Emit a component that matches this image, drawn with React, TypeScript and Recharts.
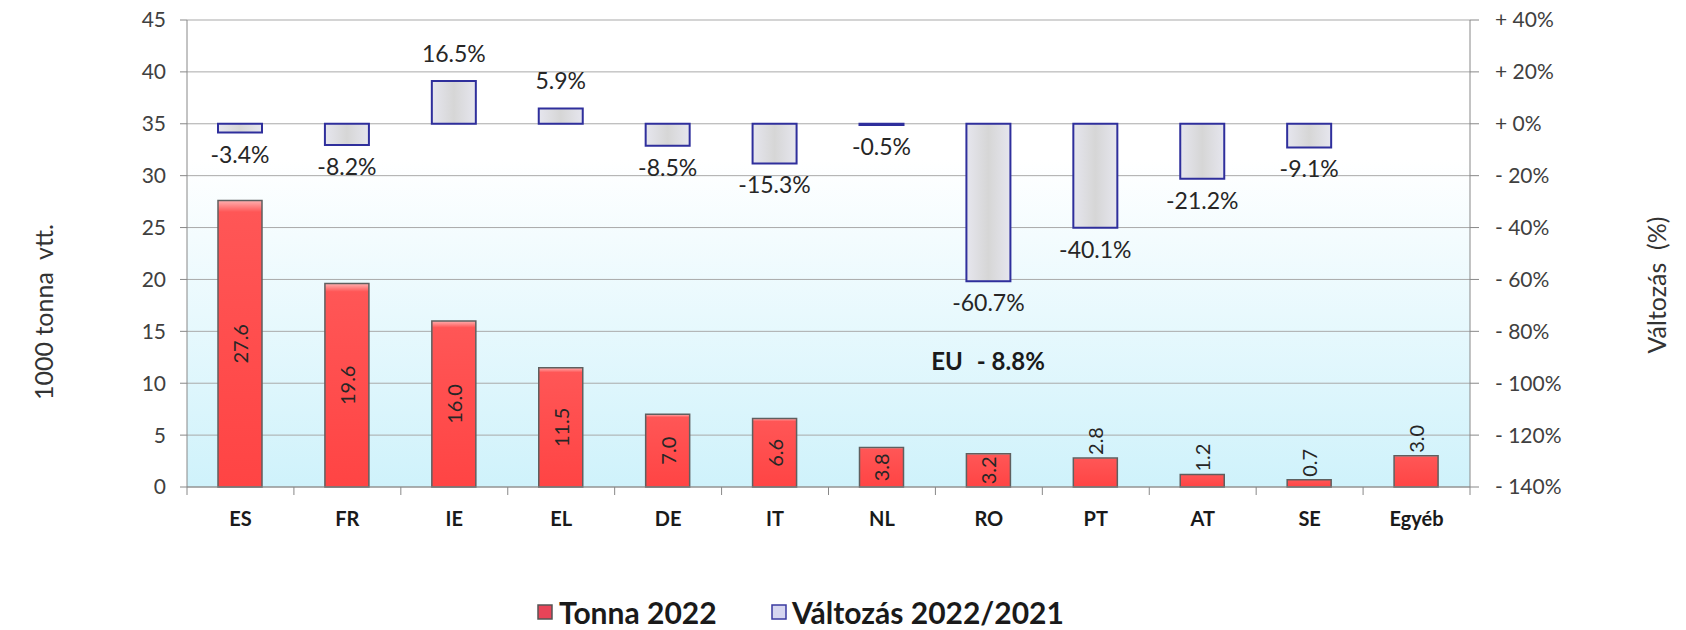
import React from "react";
import { BarChart, Bar, XAxis, YAxis, CartesianGrid, LabelList } from "recharts";

const countries = ["ES", "FR", "IE", "EL", "DE", "IT", "NL", "RO", "PT", "AT", "SE", "Egyéb"];
const tonna2022 = [27.6, 19.6, 16.0, 11.5, 7.0, 6.6, 3.8, 3.2, 2.8, 1.2, 0.7, 3.0];
const valtozas = [-3.4, -8.2, 16.5, 5.9, -8.5, -15.3, -0.5, -60.7, -40.1, -21.2, -9.1, null];
const leftTicks = [0, 5, 10, 15, 20, 25, 30, 35, 40, 45];
const rightTicks = [-140, -120, -100, -80, -60, -40, -20, 0, 20, 40];
const euNote = ["EU", "- 8.8%"];

const data = countries.map((name, i) => ({ name, tonna: tonna2022[i], valt: valtozas[i] }));

const W = 1686;
const H = 630;
const margin = { top: 20, right: 116, bottom: 103, left: 127 };
const leftW = 60;
const rightW = 100;
const xH = 40;
const plotLeft = margin.left + leftW;
const plotRight = W - margin.right - rightW;
const plotBottom = H - margin.bottom - xH;
const band = (plotRight - plotLeft) / countries.length;

const FONT = "Lato, 'Open Sans', sans-serif";

function XTick(props: any) {
  const { x, payload, index } = props;
  return (
    <g>
      <line x1={x - band / 2} x2={x - band / 2} y1={plotBottom} y2={plotBottom + 8} stroke="#888" />
      {index === countries.length - 1 && (
        <line x1={x + band / 2} x2={x + band / 2} y1={plotBottom} y2={plotBottom + 8} stroke="#888" />
      )}
      <text x={x} y={plotBottom + 39} textAnchor="middle" fontFamily={FONT} fontWeight={700} fontSize={20} fill="#1a1a1a">
        {payload.value}
      </text>
    </g>
  );
}

function TonnaLabel(props: any) {
  const vb = props.viewBox ?? props;
  const { x, y, width, height } = vb;
  const v = props.value;
  if (v == null) return null;
  const cx = x + width / 2;
  const top = Math.min(y, y + height);
  const h = Math.abs(height);
  const inside = h > 32;
  const ty = inside ? top + h / 2 : top - 3;
  return (
    <text
      x={cx}
      y={ty}
      transform={`rotate(-90 ${cx} ${ty})`}
      textAnchor={inside ? "middle" : "start"}
      dominantBaseline="central"
      fontFamily={FONT}
      fontSize={20}
      fill="#262626"
    >
      {Number(v).toFixed(1)}
    </text>
  );
}

function ValtLabel(props: any) {
  const vb = props.viewBox ?? props;
  const { x, y, width, height } = vb;
  const v = props.value;
  if (v == null) return null;
  const cx = x + width / 2;
  const top = Math.min(y, y + height);
  const bottom = Math.max(y, y + height);
  const ty = v >= 0 ? top - 19 : bottom + 30;
  return (
    <text x={cx} y={ty} textAnchor="middle" fontFamily={FONT} fontSize={23} fill="#262626">
      {`${Number(v).toFixed(1)}%`}
    </text>
  );
}

const fmtRight = (v: number) => (v >= 0 ? `+ ${v}%` : `- ${-v}%`);

export default function App() {
  return (
    <div style={{ position: "fixed", left: 0, top: 0, width: W, height: H, background: "#fff" }}>
      <BarChart width={W} height={H} data={data} margin={margin}>
        <defs>
          <linearGradient id="bgFill" x1="0" y1="0" x2="0" y2="1">
            <stop offset="0%" stopColor="#ffffff" />
            <stop offset="30%" stopColor="#ffffff" />
            <stop offset="100%" stopColor="#cff2fb" />
          </linearGradient>
          <linearGradient id="redFill" x1="0" y1="0" x2="0" y2="1">
            <stop offset="0%" stopColor="#ffb0b0" />
            <stop offset="4%" stopColor="#ff5656" />
            <stop offset="100%" stopColor="#ff4444" />
          </linearGradient>
          <linearGradient id="grayFill" x1="0" y1="0" x2="1" y2="0">
            <stop offset="0%" stopColor="#e6e6ee" />
            <stop offset="50%" stopColor="#d6d6d6" />
            <stop offset="100%" stopColor="#e6e6ee" />
          </linearGradient>
        </defs>
        <CartesianGrid yAxisId="l" vertical={false} stroke="#a9a9a9" fill="url(#bgFill)" />
        <XAxis
          xAxisId="a"
          dataKey="name"
          height={xH}
          interval={0}
          axisLine={{ stroke: "#888" }}
          tickLine={false}
          tick={<XTick />}
        />
        <XAxis xAxisId="b" dataKey="name" hide />
        <YAxis
          yAxisId="l"
          orientation="left"
          width={leftW}
          domain={[0, 45]}
          ticks={leftTicks}
          interval={0}
          axisLine={{ stroke: "#888" }}
          tickLine={{ stroke: "#888" }}
          tickSize={7}
          tickMargin={14}
          tick={{ fontFamily: FONT, fontSize: 21, fill: "#404040" }}
        />
        <YAxis
          yAxisId="r"
          orientation="right"
          width={rightW}
          domain={[-140, 40]}
          ticks={rightTicks}
          interval={0}
          tickFormatter={fmtRight}
          axisLine={{ stroke: "#888" }}
          tickLine={{ stroke: "#888" }}
          tickSize={9}
          tickMargin={16}
          tick={{ fontFamily: FONT, fontSize: 21, fill: "#404040" }}
        />
        <Bar
          xAxisId="a"
          yAxisId="l"
          dataKey="tonna"
          barSize={44}
          fill="url(#redFill)"
          stroke="#5f5f5f"
          strokeWidth={1.5}
          isAnimationActive={false}
        >
          <LabelList dataKey="tonna" content={<TonnaLabel />} />
        </Bar>
        <Bar
          xAxisId="b"
          yAxisId="r"
          dataKey="valt"
          barSize={44}
          fill="url(#grayFill)"
          stroke="#2f2f9c"
          strokeWidth={2}
          isAnimationActive={false}
        >
          <LabelList dataKey="valt" content={<ValtLabel />} />
        </Bar>
      </BarChart>
      <svg
        width={W}
        height={H}
        style={{ position: "absolute", left: 0, top: 0, pointerEvents: "none" }}
      >
        <text
          x={43}
          y={312}
          transform="rotate(-90 43 312)"
          textAnchor="middle"
          dominantBaseline="central"
          fontFamily={FONT}
          fontSize={25}
          fill="#333"
          style={{ whiteSpace: "pre" }}
        >
          1000 tonna  vtt.
        </text>
        <text
          x={1656}
          y={285}
          transform="rotate(-90 1656 285)"
          textAnchor="middle"
          dominantBaseline="central"
          fontFamily={FONT}
          fontSize={25}
          fill="#333"
          style={{ whiteSpace: "pre" }}
        >
          Változás  (%)
        </text>
        <text x={988} y={370} textAnchor="middle" fontFamily={FONT} fontWeight={700} fontSize={24} fill="#1a1a1a">
          <tspan>{euNote[0]}</tspan>
          <tspan dx={14}>{euNote[1]}</tspan>
        </text>
        <rect x={538} y={605} width={14} height={14} fill="#e84458" stroke="#555" strokeWidth={1.5} />
        <text x={559} y={624} fontFamily={FONT} fontWeight={700} fontSize={30} fill="#1a1a1a">
          Tonna 2022
        </text>
        <rect x={772} y={605} width={14} height={14} fill="#d6d6f0" stroke="#3a3aa0" strokeWidth={1.5} />
        <text x={792} y={624} fontFamily={FONT} fontWeight={700} fontSize={30} fill="#1a1a1a">
          Változás 2022/2021
        </text>
      </svg>
    </div>
  );
}
